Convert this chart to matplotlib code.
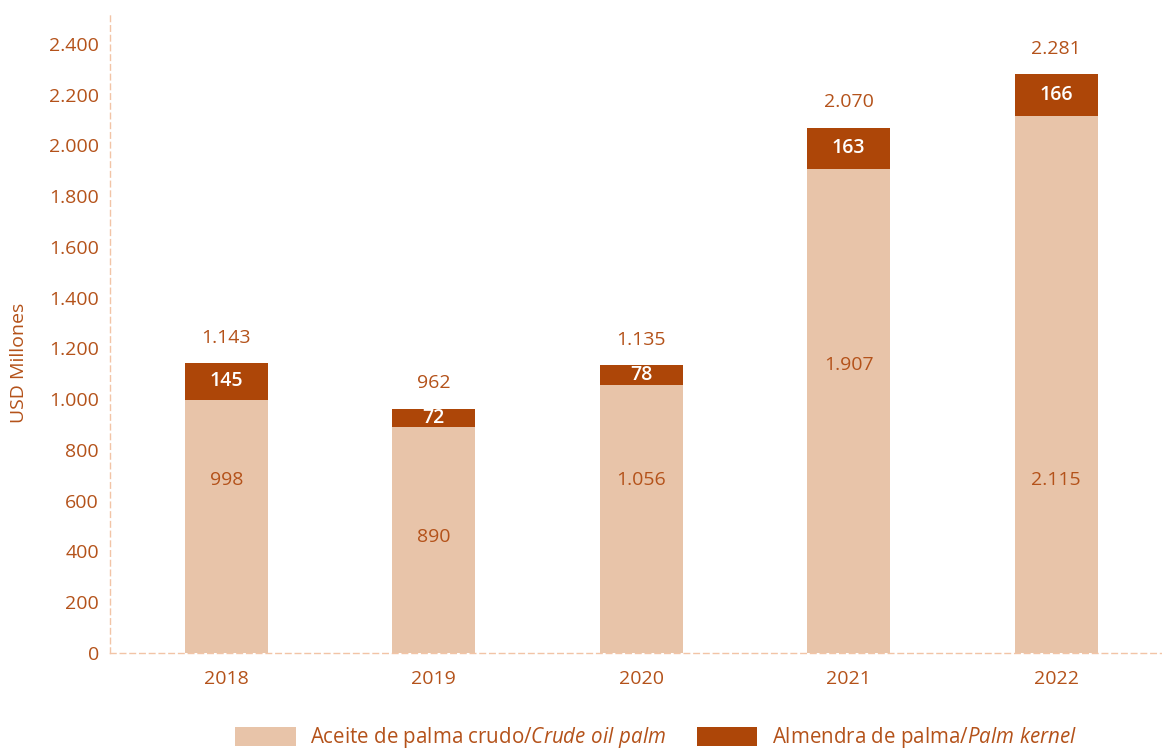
import numpy as np
import matplotlib.pyplot as plt
from matplotlib.ticker import FuncFormatter

plt.rcParams["font.family"] = ["Open Sans", "DejaVu Sans"]
plt.rcParams["mathtext.fontset"] = "custom"
plt.rcParams["mathtext.it"] = "Open Sans:italic"
plt.rcParams["mathtext.rm"] = "Open Sans"

# Data
years = ["2018", "2019", "2020", "2021", "2022"]
crude_oil = [998, 890, 1056, 1907, 2115]
kernel = [145, 72, 78, 163, 166]
totals = [1143, 962, 1135, 2070, 2281]

# label heights inside the light segments (as placed in the original)
inner_label_y = [682, 457, 682, 1135, 682]

light = "#E8C4A9"
dark = "#AD4608"
txt = "#B4521A"
grid_c = "#F2C4A6"

def fmt(v):
    return f"{v:,.0f}".replace(",", ".")

fig = plt.figure(figsize=(11.62, 7.53), dpi=100)
ax = fig.add_axes([110 / 1162, 100 / 753, 1 - 110 / 1162, 638 / 753])

x = np.arange(len(years))
w = 0.4
ax.bar(x, crude_oil, w, color=light,
       label=r"Aceite de palma crudo/$\it{Crude\ oil\ palm}$")
ax.bar(x, kernel, w, bottom=crude_oil, color=dark,
       label=r"Almendra de palma/$\it{Palm\ kernel}$")

for i in range(len(years)):
    ax.text(x[i], inner_label_y[i], fmt(crude_oil[i]), ha="center", va="center",
            color=txt, fontsize=14)
    ax.text(x[i], crude_oil[i] + kernel[i] / 2, fmt(kernel[i]), ha="center",
            va="center", color="white", fontsize=14, fontweight="semibold")
    ax.text(x[i], totals[i] + 100, fmt(totals[i]), ha="center", va="center",
            color=txt, fontsize=14)

ax.set_xlim(-0.56, 4.51)
ax.set_ylim(0, 2514)
ax.set_yticks(np.arange(0, 2401, 200))
ax.yaxis.set_major_formatter(FuncFormatter(lambda v, p: fmt(v)))
ax.set_xticks(x)
ax.set_xticklabels(years)
ax.tick_params(axis="both", length=0, colors=txt, labelsize=14)
ax.tick_params(axis="x", pad=12)
ax.tick_params(axis="y", pad=8)

for s in ["top", "right"]:
    ax.spines[s].set_visible(False)
for s in ["left", "bottom"]:
    ax.spines[s].set_color(grid_c)
    ax.spines[s].set_linestyle((0, (4, 3)))
    ax.spines[s].set_linewidth(1)

ax.set_ylabel("USD Millones", color=txt, fontsize=14)
ax.yaxis.set_label_coords(-0.078, 0.455)

fig.legend(loc="center", bbox_to_anchor=(656 / 1162, 15 / 753), ncol=2,
           frameon=False, fontsize=14.8, labelcolor=txt, handlelength=2.95,
           handleheight=1.1, handletextpad=0.7, columnspacing=1.5)

plt.savefig("out.png", dpi=100)
